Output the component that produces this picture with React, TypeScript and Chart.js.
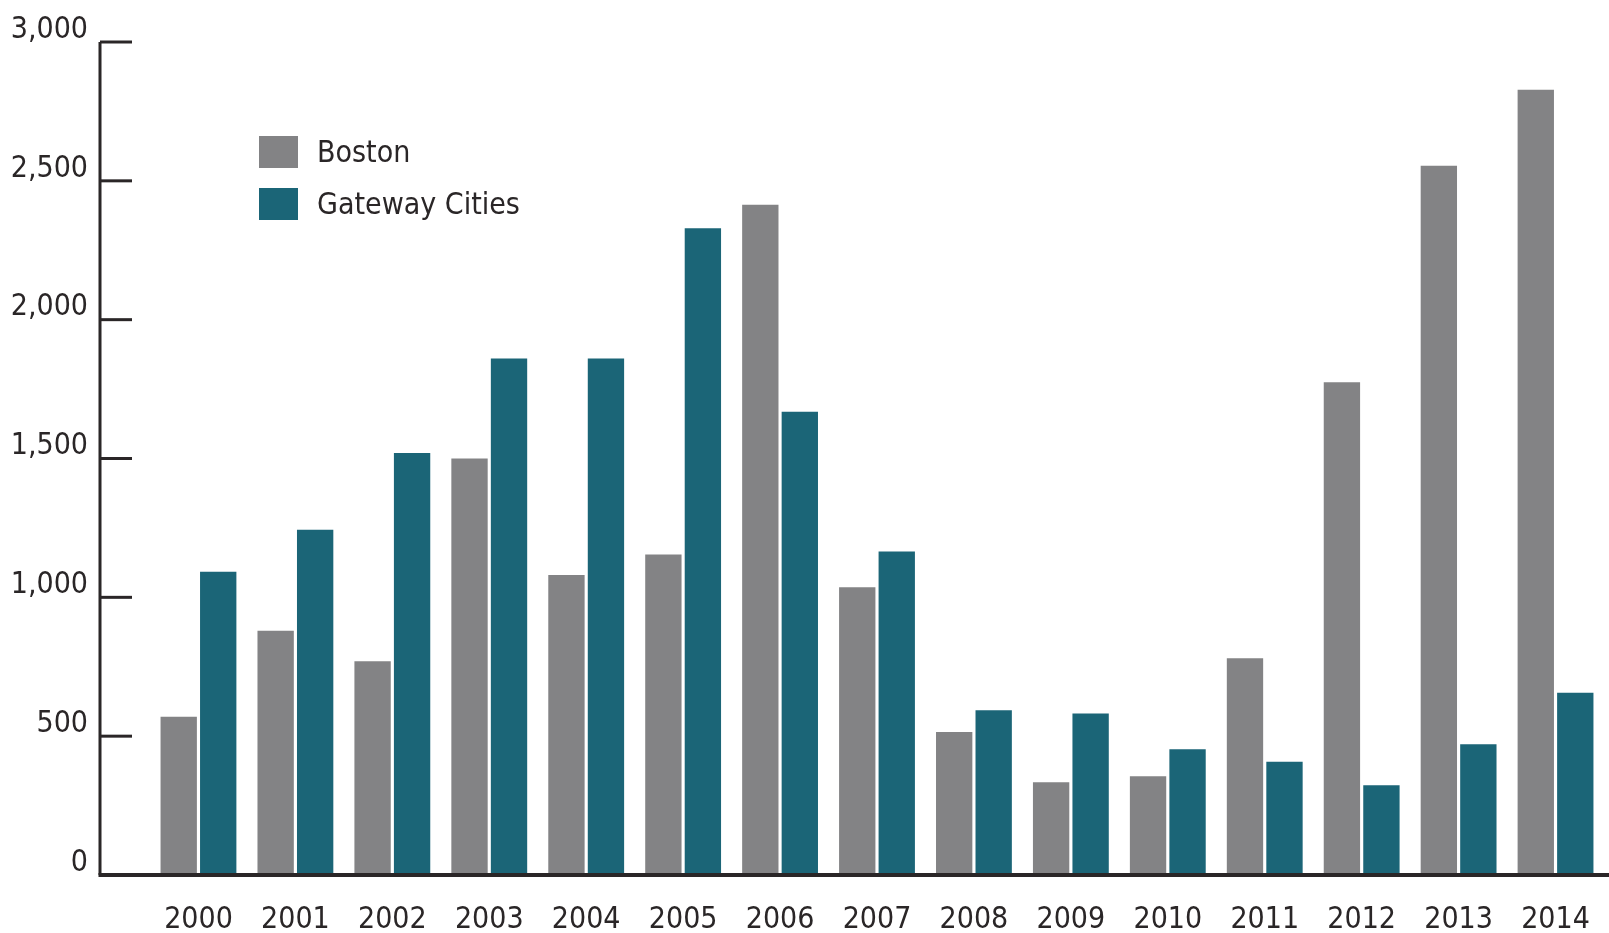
import React, { useEffect, useRef } from "react";
import { Chart, registerables } from "chart.js";

Chart.register(...registerables);

const years = ["2000", "2001", "2002", "2003", "2004", "2005", "2006", "2007", "2008", "2009", "2010", "2011", "2012", "2013", "2014"];
const boston = [570, 880, 770, 1500, 1080, 1154, 2414, 1036, 515, 334, 356, 781, 1775, 2554, 2828];
const gateway = [1092, 1243, 1520, 1860, 1860, 2329, 1668, 1165, 593, 582, 453, 408, 323, 471, 656];
const seriesLabels = ["Boston", "Gateway Cities"];
const seriesColors = ["#838385", "#1b6577"];
const yMin = 0;
const yMax = 3000;
const yStep = 500;

const INK = "#2a2627";
const FONT = "'Liberation Sans Narrow', 'DejaVu Sans Condensed', 'Arial Narrow', sans-serif";
const AXIS_GAP = 50;

const axesPlugin = {
  id: "customAxes",
  afterDatasetsDraw(chart: any) {
    const { ctx, chartArea, scales } = chart;
    const y = scales.y;
    const axisX = chartArea.left - AXIS_GAP;
    const y0 = y.getPixelForValue(yMin);
    const yTop = y.getPixelForValue(yMax);
    ctx.save();
    ctx.strokeStyle = INK;
    ctx.lineWidth = 3;
    ctx.beginPath();
    ctx.moveTo(axisX, yTop);
    ctx.lineTo(axisX, y0);
    ctx.stroke();
    y.ticks.forEach((t: any) => {
      if (t.value === yMin) return;
      const py = y.getPixelForValue(t.value);
      ctx.beginPath();
      ctx.moveTo(axisX, py);
      ctx.lineTo(axisX + 32, py);
      ctx.stroke();
    });
    ctx.lineWidth = 4;
    ctx.beginPath();
    ctx.moveTo(axisX - 1.5, y0);
    ctx.lineTo(chart.width, y0);
    ctx.stroke();
    ctx.restore();
  },
};

const legendPlugin = {
  id: "customLegend",
  afterDraw(chart: any) {
    const { ctx } = chart;
    ctx.save();
    ctx.font = `30px ${FONT}`;
    ctx.textBaseline = "middle";
    ctx.textAlign = "left";
    chart.data.datasets.forEach((ds: any, i: number) => {
      const cy = 152 + i * 52;
      ctx.fillStyle = ds.backgroundColor;
      ctx.fillRect(259, cy - 16, 39, 32);
      ctx.fillStyle = INK;
      ctx.fillText(ds.label, 317, cy + 2);
    });
    ctx.restore();
  },
};

export default function App() {
  const ref = useRef<HTMLCanvasElement | null>(null);
  useEffect(() => {
    if (!ref.current) return;
    const chart = new Chart(ref.current, {
      type: "bar",
      data: {
        labels: years,
        datasets: [
          { label: seriesLabels[0], data: boston, backgroundColor: seriesColors[0], categoryPercentage: 0.815, barPercentage: 0.92 },
          { label: seriesLabels[1], data: gateway, backgroundColor: seriesColors[1], categoryPercentage: 0.815, barPercentage: 0.92 },
        ],
      },
      options: {
        animation: false,
        responsive: true,
        maintainAspectRatio: false,
        layout: { padding: { top: 42, right: 5, left: 0, bottom: 0 } },
        plugins: { legend: { display: false }, tooltip: { enabled: false } },
        scales: {
          x: {
            grid: { display: false, drawTicks: false },
            border: { display: false },
            ticks: { color: INK, font: { family: FONT, size: 30 }, padding: 27 },
            afterFit(scale: any) {
              scale.height = 58;
              scale.paddingLeft = 0;
              scale.paddingRight = 0;
            },
          },
          y: {
            min: yMin,
            max: yMax,
            grid: { display: false, drawTicks: false },
            border: { display: false },
            ticks: {
              stepSize: yStep,
              color: INK,
              font: { family: FONT, size: 30 },
              padding: 62,
              labelOffset: -12,
              callback: (v: any) => Number(v).toLocaleString("en-US"),
            },
            afterFit(scale: any) {
              scale.width = 150;
              scale.paddingTop = 0;
              scale.paddingBottom = 0;
            },
          },
        },
      },
      plugins: [axesPlugin, legendPlugin],
    });
    return () => chart.destroy();
  }, []);
  return (
    <div style={{ position: "fixed", left: 0, top: 0, width: 1609, height: 933, background: "#fff" }}>
      <canvas ref={ref} />
    </div>
  );
}
